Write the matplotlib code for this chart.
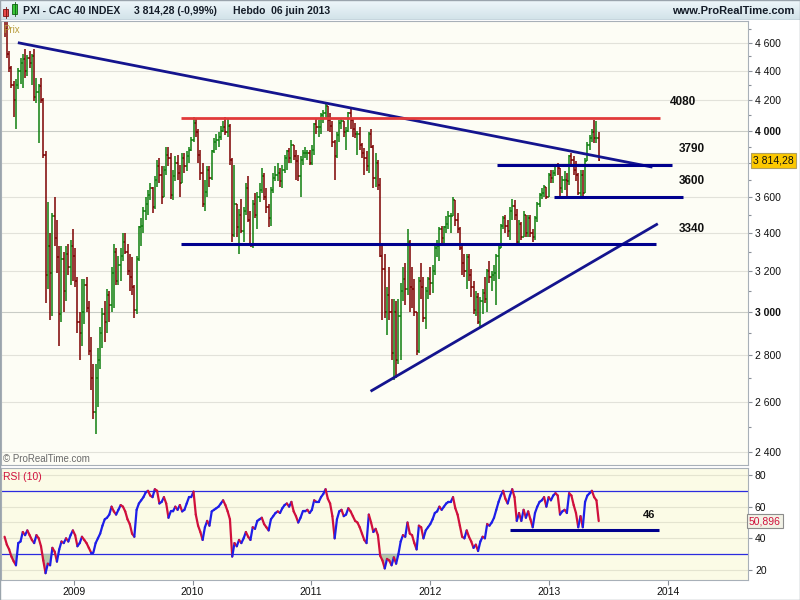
import matplotlib
matplotlib.use("Agg")
import matplotlib.pyplot as plt
import matplotlib.dates as mdates
import matplotlib.transforms as mtransforms
from matplotlib.collections import LineCollection
from matplotlib.colors import LinearSegmentedColormap
from matplotlib.patches import Rectangle
from matplotlib.ticker import FixedLocator, NullFormatter
import numpy as np
import pandas as pd

plt.rcParams['font.family'] = ['Liberation Sans', 'DejaVu Sans']

# CAC 40, weekly bars from the week of 2 June 2008
first_week = "2008-06-02"
first_open = 4900

close_2008 = [4700, 4520, 4420, 4300, 4200, 4300, 4400, 4450, 4480, 4400, 4490, 4450, 4500, 4220, 4250, 4290,
              4200, 3850, 3180, 3330, 3190, 3490, 3370, 3270, 2990, 3260, 3100, 3290, 3220, 3330, 3280]
high_2008 = [4950, 4760, 4540, 4430, 4330, 4340, 4420, 4490, 4520, 4550, 4510, 4540, 4520, 4550, 4350, 4310,
             4350, 4210, 3870, 3570, 3400, 3510, 3600, 3470, 3330, 3330, 3300, 3330, 3340, 3360, 3420]
low_2008 = [4640, 4490, 4390, 4280, 4090, 4010, 4270, 4310, 4280, 4350, 4360, 4420, 4300, 4190, 4180, 3920,
            4180, 3830, 3040, 3110, 2960, 2980, 3330, 3190, 2840, 2950, 3000, 3050, 3180, 3130, 3150]

close_2009 = [3150, 2950, 2900, 3000, 3130, 3020, 2820, 2700, 2560, 2700, 2780, 2900, 2990, 2950, 3080, 3030,
              3190, 3300, 3150, 3230, 3280, 3350, 3300, 3200, 3170, 3120, 3010, 3260, 3430, 3440, 3520, 3560,
              3610, 3650, 3540, 3700, 3780, 3730, 3600, 3760, 3850, 3830, 3610, 3720, 3800, 3740, 3680, 3830,
              3780, 3840, 3880, 3940]
high_2009 = [3320, 3170, 3000, 3160, 3160, 3170, 3050, 2880, 2760, 2760, 2830, 2930, 3020, 3050, 3110, 3100,
             3220, 3340, 3320, 3280, 3320, 3400, 3400, 3340, 3290, 3270, 3130, 3280, 3440, 3480, 3540, 3600,
             3640, 3680, 3660, 3720, 3820, 3830, 3780, 3780, 3900, 3900, 3860, 3760, 3840, 3850, 3790, 3860,
             3860, 3870, 3900, 3960]
low_2009 = [3120, 2900, 2780, 2840, 2940, 3000, 2800, 2650, 2530, 2470, 2580, 2740, 2830, 2860, 2900, 2950,
            3000, 3020, 3130, 3130, 3150, 3250, 3290, 3180, 3100, 3080, 2970, 2990, 3250, 3330, 3400, 3470,
            3500, 3580, 3510, 3530, 3660, 3680, 3560, 3600, 3730, 3780, 3590, 3580, 3690, 3700, 3600, 3680,
            3740, 3750, 3800, 3870]

close_2010 = [4050, 3990, 3850, 3740, 3560, 3630, 3760, 3710, 3870, 3930, 3940, 3960, 4000, 4020, 3990, 4030,
              3820, 3390, 3560, 3430, 3500, 3410, 3520, 3650, 3470, 3330, 3560, 3500, 3600, 3640, 3720, 3600,
              3540, 3480, 3640, 3710, 3730, 3740, 3690, 3760, 3830, 3870, 3830, 3910, 3840, 3810, 3720, 3820,
              3860, 3860, 3860, 3800]
high_2010 = [4090, 4080, 4010, 3880, 3800, 3700, 3780, 3780, 3880, 3950, 3980, 3990, 4030, 4060, 4090, 4080,
             4040, 3830, 3790, 3560, 3530, 3590, 3540, 3680, 3720, 3520, 3580, 3620, 3630, 3680, 3770, 3740,
             3650, 3560, 3660, 3740, 3780, 3800, 3770, 3790, 3850, 3880, 3890, 3940, 3910, 3880, 3850, 3840,
             3880, 3900, 3880, 3880]
low_2010 = [3930, 3960, 3800, 3700, 3540, 3520, 3600, 3660, 3700, 3860, 3880, 3900, 3940, 3990, 3970, 3960,
            3790, 3350, 3380, 3380, 3290, 3400, 3350, 3500, 3460, 3330, 3320, 3480, 3420, 3570, 3620, 3580,
            3510, 3430, 3440, 3620, 3690, 3690, 3660, 3650, 3740, 3760, 3800, 3800, 3820, 3700, 3690, 3600,
            3790, 3830, 3820, 3790]

close_2011 = [3880, 4040, 4020, 4020, 4100, 4110, 4160, 4070, 4030, 3930, 3840, 3970, 4050, 4060, 3990, 4000,
              4110, 4070, 4010, 3980, 3980, 3910, 3860, 3830, 3780, 3980, 3900, 3710, 3800, 3670, 3280, 3210,
              3000, 3080, 3000, 2810, 3000, 2780, 2980, 3100, 3160, 3110, 3350, 3120, 3110, 3000, 2820, 3150,
              3120, 2970, 3100, 3160]
high_2011 = [3910, 4050, 4080, 4070, 4110, 4130, 4170, 4160, 4110, 4060, 3940, 3990, 4070, 4080, 4060, 4020,
             4120, 4150, 4080, 4050, 4000, 4020, 3920, 3890, 3870, 3990, 4010, 3910, 3860, 3820, 3710, 3330,
             3290, 3120, 3220, 3060, 3060, 3050, 3060, 3140, 3220, 3240, 3420, 3360, 3220, 3160, 3000, 3170,
             3240, 3170, 3120, 3170]
low_2011 = [3790, 3850, 3980, 3960, 3980, 4050, 4080, 4000, 3990, 3900, 3700, 3830, 3930, 4010, 3960, 3880,
            3990, 4010, 3960, 3950, 3850, 3880, 3830, 3730, 3750, 3740, 3890, 3650, 3660, 3640, 3270, 2960,
            2970, 2890, 2960, 2780, 2690, 2700, 2760, 2780, 3050, 3030, 3080, 3000, 3020, 2980, 2800, 2810,
            3060, 2950, 2920, 3060]

close_2012 = [3140, 3200, 3320, 3330, 3420, 3370, 3430, 3450, 3490, 3490, 3580, 3470, 3420, 3320, 3240, 3200,
              3270, 3180, 3120, 3010, 3070, 2950, 3050, 3090, 3060, 3200, 3170, 3180, 3190, 3280, 3320, 3440,
              3480, 3440, 3410, 3520, 3550, 3500, 3350, 3450, 3380, 3500, 3400, 3480, 3400, 3380, 3480, 3560,
              3610, 3620, 3660, 3600, 3730]
high_2012 = [3220, 3230, 3340, 3360, 3430, 3440, 3440, 3490, 3520, 3510, 3600, 3580, 3510, 3430, 3330, 3290,
             3290, 3290, 3210, 3150, 3100, 3090, 3070, 3110, 3170, 3210, 3250, 3200, 3230, 3290, 3340, 3450,
             3490, 3500, 3470, 3540, 3590, 3580, 3530, 3470, 3460, 3520, 3500, 3500, 3500, 3420, 3490, 3570,
             3620, 3650, 3670, 3660, 3740]
low_2012 = [3080, 3090, 3180, 3270, 3250, 3340, 3330, 3400, 3420, 3400, 3490, 3440, 3400, 3310, 3180, 3170,
            3110, 3150, 3070, 2990, 2980, 2940, 2930, 2990, 3040, 3000, 3140, 3100, 3150, 3030, 3160, 3320,
            3420, 3400, 3380, 3360, 3470, 3470, 3340, 3340, 3360, 3380, 3380, 3380, 3380, 3350, 3360, 3460,
            3540, 3590, 3600, 3590, 3600]

close_2013 = [3710, 3740, 3780, 3770, 3650, 3700, 3700, 3690, 3840, 3820, 3760, 3730, 3620, 3730, 3620, 3810,
              3910, 3950, 3990, 3950, 3950, 3814.28]
high_2013 = [3760, 3760, 3790, 3800, 3770, 3720, 3750, 3740, 3850, 3860, 3840, 3810, 3740, 3760, 3760, 3830,
             3930, 3970, 4010, 4070, 4060, 3990]
low_2013 = [3680, 3680, 3720, 3730, 3600, 3620, 3640, 3590, 3670, 3790, 3730, 3690, 3610, 3600, 3590, 3620,
            3810, 3880, 3930, 3920, 3920, 3810]

# RSI (10), one value per week
rsi_2008 = [41, 36, 33, 28.5, 25.5, 23, 37, 38, 44, 42, 45, 42, 39, 37, 42, 40, 35, 26, 18, 24, 23, 34, 31.6,
            25.3, 33, 38, 37, 40, 38, 42, 45]
rsi_2009 = [42, 35, 37, 41, 39, 37, 34, 31, 31, 37, 40, 43, 48, 52, 53, 55, 60, 57, 55, 58, 61, 60, 57, 52,
            49, 43, 41, 58, 62, 64, 66, 69, 70, 67, 66, 71, 70, 62, 63, 66, 62, 53, 57, 57, 60, 58, 61, 57,
            58, 62, 66, 66]
rsi_2010 = [69.5, 55, 48, 44, 39, 47, 51, 48, 57, 58, 59, 60, 62, 64, 61, 57, 52, 28.5, 37, 35, 39, 37, 40,
            44, 41, 39, 47, 46, 51, 52, 53, 49, 47, 45, 52, 54, 56, 57, 56, 59, 61, 62, 60, 63, 57, 54, 50,
            53, 57, 57, 58, 56]
rsi_2011 = [58, 64, 63, 63, 66, 68, 71, 65, 62, 54, 40, 52, 57, 58, 54, 55, 59, 57, 54, 51, 50, 47, 43, 39,
            37, 55, 50, 44, 46, 42, 29, 26, 21, 27, 26, 23, 28, 24, 30, 38, 42, 41, 50, 43, 42, 37, 33, 48,
            47, 40, 45, 47]
rsi_2012 = [49, 52, 56, 57, 60, 58, 60, 62, 63, 63, 66, 59, 55, 48, 41, 40, 45, 41, 38, 34, 36, 32, 38, 41,
            40, 49, 48, 50, 53, 58, 63, 67, 70, 65, 62, 67, 71, 66, 51, 56, 51, 58, 53, 57, 52, 47, 56, 60,
            63, 64, 66, 60, 66]
rsi_2013 = [64, 67, 68.5, 67, 55, 57, 58, 56, 68.5, 67, 61, 56, 47, 54, 47, 63, 67, 68.5, 70, 66, 64, 50.896]

# drawn levels and trend lines
level_4080 = (4080, "2009-11-26", "2013-12-08")
level_3790 = (3790, "2012-07-25", "2014-01-14")
level_3600 = (3600, "2013-01-17", "2014-02-17")
level_3340 = (3340, "2009-11-26", "2013-11-26")
down_trend = (["2008-07-17", "2013-11-11"], [4597, 3776])
up_trend = (["2011-07-06", "2013-11-28"], [2647, 3446])
rsi_support = (45, "2012-09-03", "2013-12-05")
price_ticks = [2400, 2600, 2800, 3000, 3200, 3400, 3600, 3800, 4000, 4200, 4400, 4600]
rsi_ticks = [20, 40, 60, 80]
years = [2009, 2010, 2011, 2012, 2013, 2014]

closes = np.array(close_2008 + close_2009 + close_2010 + close_2011 + close_2012 + close_2013)
highs = np.array(high_2008 + high_2009 + high_2010 + high_2011 + high_2012 + high_2013)
lows = np.array(low_2008 + low_2009 + low_2010 + low_2011 + low_2012 + low_2013)
rsi = np.array(rsi_2008 + rsi_2009 + rsi_2010 + rsi_2011 + rsi_2012 + rsi_2013)
assert len(closes) == len(highs) == len(lows) == len(rsi)

weeks = pd.date_range(first_week, periods=len(closes), freq="W-MON")
x = mdates.date2num(weeks)
opens = np.r_[first_open, closes[:-1]]
d = mdates.datestr2num
xlim = (d("2008-05-22"), d("2014-09-05"))

W, H = 800, 600
fig = plt.figure(figsize=(8, 6), dpi=100, facecolor="white")


def box(l, t, r, b):
    return [l / W, 1 - b / H, (r - l) / W, (b - t) / H]


# ---- header bar
axh = fig.add_axes(box(0, 0, 800, 20))
grad = np.linspace(0, 1, 20).reshape(-1, 1)
cmap = LinearSegmentedColormap.from_list("hdr", ["#eef7fa", "#d2e2e9"])
axh.imshow(grad, extent=(0, 800, 20, 0), aspect="auto", cmap=cmap)
axh.set_xlim(0, 800)
axh.set_ylim(20, 0)
axh.axis("off")
axh.axhline(19.6, color="#98a4ac", lw=1)
axh.add_patch(Rectangle((3, 9), 5, 7, fc="#e84848", ec="#7a1010", lw=0.6))
axh.plot([5.5, 5.5], [7, 18], color="#7a1010", lw=0.6)
axh.add_patch(Rectangle((12, 4), 5, 10, fc="#38c838", ec="#106010", lw=0.6))
axh.plot([14.5, 14.5], [2, 16], color="#106010", lw=0.6)
hdr = dict(fontsize=7.5, fontweight="bold", color="#141c28", va="center")
axh.text(23, 10.5, "PXI - CAC 40 INDEX", ha="left", **hdr)
axh.text(134, 10.5, "3 814,28 (-0,99%)", ha="left", **hdr)
axh.text(233, 10.5, "Hebdo  06 juin 2013", ha="left", **hdr)
axh.text(794, 11, "www.ProRealTime.com", ha="right", fontsize=8, fontweight="bold", color="#141c28", va="center")

# ---- price panel
ax = fig.add_axes(box(1, 21, 748, 465))
ax.set_facecolor("#fdfdf5")
ax.set_yscale("log")
ax.set_ylim(2352, 4760)
ax.set_xlim(*xlim)
for p in price_ticks:
    ax.axhline(p, color="#c9ccc6" if p % 1000 == 0 else "#e2e2da", lw=0.8, zorder=0)

colors = np.where(closes >= opens, "#0f7f0f", "#7d0000")
ax.vlines(x, lows, highs, colors=colors, lw=1.1, zorder=2)
ax.hlines(opens, x - 3.5, x, colors=colors, lw=1.1, zorder=2)
ax.hlines(closes, x, x + 3.5, colors=colors, lw=1.1, zorder=2)

ax.plot([d(s) for s in down_trend[0]], down_trend[1], color="#14148e", lw=2.0, zorder=3)
ax.plot([d(s) for s in up_trend[0]], up_trend[1], color="#14148e", lw=2.0, zorder=3)
ax.hlines(level_4080[0], d(level_4080[1]), d(level_4080[2]), color="#e23a3a", lw=2.0, zorder=3)
for lv in (level_3790, level_3600, level_3340):
    ax.hlines(lv[0], d(lv[1]), d(lv[2]), color="#00008e", lw=2.2, zorder=3)

lab = dict(fontsize=8.5, fontweight="bold", color="#101010", ha="center", va="center")
ax.text(d("2014-02-18"), 4184, "4080", **lab)
ax.text(d("2014-03-17"), 3883, "3790", **lab)
ax.text(d("2014-03-17"), 3690, "3600", **lab)
ax.text(d("2014-03-17"), 3419, "3340", **lab)

ax.text(0.003, 0.992, "Prix", transform=ax.transAxes, ha="left", va="top", fontsize=7, color="#b89c3c")
ax.text(0.003, 0.0135, "\u00a9 ProRealTime.com", transform=ax.transAxes, ha="left", va="center",
        fontsize=7, color="#6a6a6a")

# the last-price box takes the place of the 3 800 label
ax.yaxis.tick_right()
ax.set_yticks(price_ticks)
ax.set_yticklabels(["" if p == 3800 else f"{p // 1000} {p % 1000:03d}" for p in price_ticks])
ax.yaxis.set_minor_locator(FixedLocator([p + 100 for p in price_ticks]))
ax.yaxis.set_minor_formatter(NullFormatter())
ax.tick_params(axis="y", which="major", length=3, width=0.8, color="#8a9098", labelsize=7.5,
               pad=2, labelcolor="#101010")
ax.tick_params(axis="y", which="minor", length=2, width=0.8, color="#8a9098")
for p, t in zip(price_ticks, ax.yaxis.get_major_ticks()):
    if p % 1000 == 0:
        t.label2.set_fontweight("bold")
ax.set_xticks([])
for s in ax.spines.values():
    s.set_color("#a8b0b8")
    s.set_linewidth(0.8)

blend = mtransforms.blended_transform_factory(ax.transAxes, ax.transData)
ax.text(1.0063, closes[-1], "3 814,28", transform=blend, ha="left", va="center", fontsize=7.5,
        color="#101010", clip_on=False, zorder=6,
        bbox=dict(boxstyle="square,pad=0.2", fc="#fcc800", ec="#b0a060", lw=0.8))

# ---- RSI panel
axr = fig.add_axes(box(1, 468, 748, 580))
axr.set_facecolor("#fbfbe6")
axr.set_xlim(*xlim)
axr.set_ylim(13.7, 84.4)
for g in (20, 40, 50, 60, 80):
    axr.axhline(g, color="#e4e4d0", lw=0.8, zorder=0)
axr.axhline(70, color="#2b2bdf", lw=0.9, zorder=1)
axr.axhline(30, color="#2b2bdf", lw=0.9, zorder=1)
axr.fill_between(x, rsi, 30, where=rsi < 30, interpolate=True, color="#b7c9a9", lw=0, zorder=2)

pts = np.column_stack([x, rsi])
segs = np.stack([pts[:-1], pts[1:]], axis=1)
seg_colors = np.where(np.diff(rsi) >= 0, "#1e1ee8", "#d0103c")
axr.add_collection(LineCollection(segs, colors=seg_colors, linewidths=1.6, zorder=3,
                                  capstyle="round", joinstyle="round"))

axr.hlines(rsi_support[0], d(rsi_support[1]), d(rsi_support[2]), color="#00008e", lw=2.2, zorder=4)
axr.text(d("2013-11-04"), 55, "46", fontsize=8, fontweight="bold", color="#101010", ha="center", va="center")
axr.text(0.003, 0.922, "RSI (10)", transform=axr.transAxes, ha="left", va="center", fontsize=7.5,
         color="#d0103c")

axr.yaxis.tick_right()
axr.set_yticks(rsi_ticks)
axr.set_yticklabels([str(v) for v in rsi_ticks])
axr.set_xticks([d(f"{y}-01-01") for y in years])
axr.set_xticklabels([str(y) for y in years])
axr.tick_params(axis="y", length=3, width=0.8, color="#8a9098", labelsize=7.5, pad=2, labelcolor="#101010")
axr.tick_params(axis="x", length=3.6, width=0.8, color="#8a9098", labelsize=7.5, pad=1.5, labelcolor="#101010")
for s in axr.spines.values():
    s.set_color("#a8b0b8")
    s.set_linewidth(0.8)

blend_r = mtransforms.blended_transform_factory(axr.transAxes, axr.transData)
axr.text(1.0013, rsi[-1], "50,896", transform=blend_r, ha="left", va="center", fontsize=7.5,
         color="#d0103c", clip_on=False, zorder=6,
         bbox=dict(boxstyle="square,pad=0.2", fc="#f2f2e6", ec="#8c8c8c", lw=0.8))

fig.patches.append(Rectangle((0, 0), 1, 1, transform=fig.transFigure, fill=False, ec="#9aa4ac", lw=1))

fig.savefig("out.png", dpi=100, facecolor=fig.get_facecolor())
